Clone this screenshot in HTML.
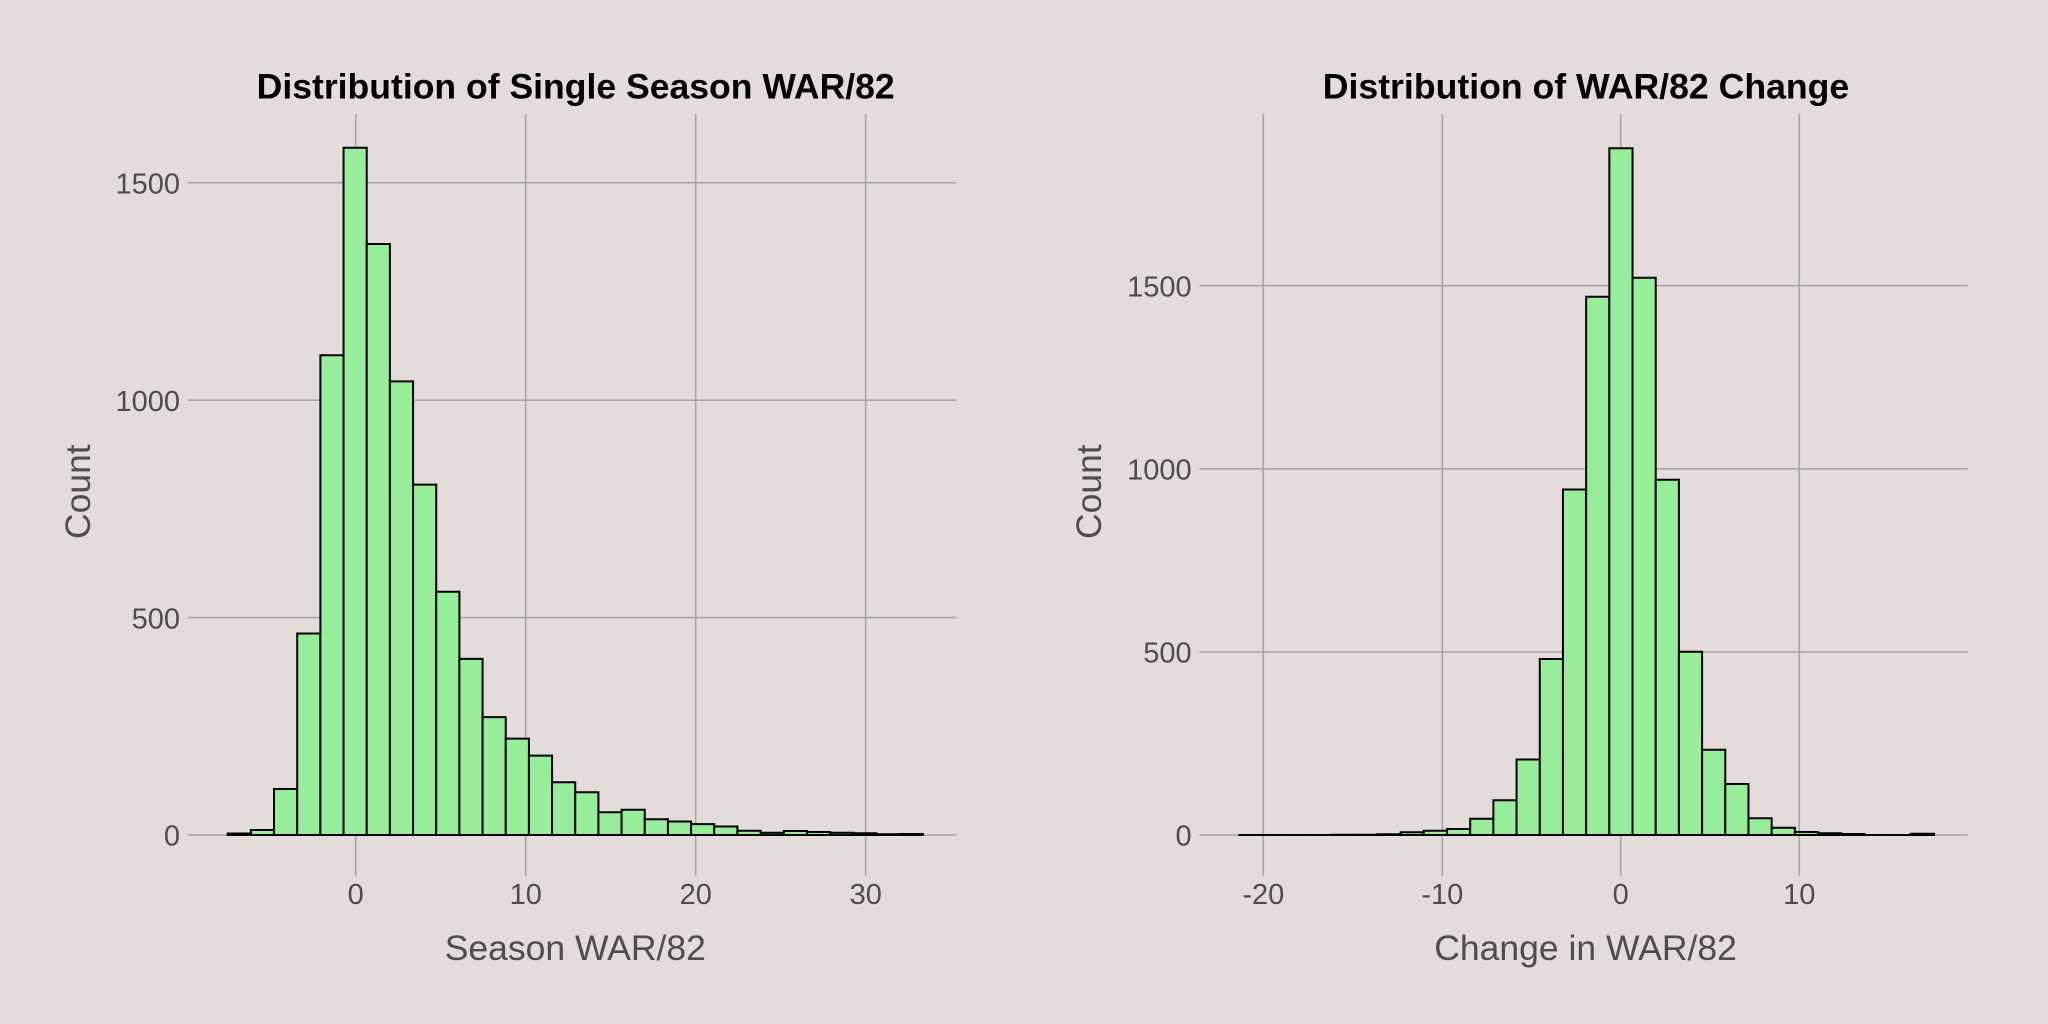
<!DOCTYPE html>
<html>
<head>
<meta charset="utf-8">
<style>
  html, body { margin: 0; padding: 0; background: #E3DCD8; }
  svg { display: block; }
  .grid { stroke: #A6A6A6; stroke-width: 1.6; fill: none; }
  .bar { fill: #96EE9B; stroke: #000; stroke-width: 2; stroke-linejoin: miter; }
  .tick { font-family: "Liberation Sans", Arial, sans-serif; font-size: 29px; fill: #4D4D4D; }
  .atitle { font-family: "Liberation Sans", Arial, sans-serif; font-size: 35.5px; fill: #4D4D4D; }
  .title { font-family: "Liberation Sans", Arial, sans-serif; font-size: 35.5px; font-weight: bold; fill: #000; }
</style>
</head>
<body>
<svg width="2048" height="1024" viewBox="0 0 2048 1024" xmlns="http://www.w3.org/2000/svg">
  <rect x="0" y="0" width="2048" height="1024" fill="#E3DCD8"/>

  <!-- ================= LEFT PANEL ================= -->
  <!-- horizontal gridlines -->
  <line class="grid" x1="187.7" x2="956.7" y1="835" y2="835"/>
  <line class="grid" x1="187.7" x2="956.7" y1="617.6" y2="617.6"/>
  <line class="grid" x1="187.7" x2="956.7" y1="400.2" y2="400.2"/>
  <line class="grid" x1="187.7" x2="956.7" y1="182.7" y2="182.7"/>
  <!-- vertical gridlines -->
  <line class="grid" x1="355.7" x2="355.7" y1="114" y2="876"/>
  <line class="grid" x1="525.7" x2="525.7" y1="114" y2="876"/>
  <line class="grid" x1="695.7" x2="695.7" y1="114" y2="876"/>
  <line class="grid" x1="865.7" x2="865.7" y1="114" y2="876"/>

  <!-- bars -->
  <path class="bar" d="M227.7 835V833.5H250.87V835Z"/>
  <path class="bar" d="M250.87 835V830H274.04V835Z"/>
  <path class="bar" d="M274.04 835V789H297.21V835Z"/>
  <path class="bar" d="M297.21 835V633.5H320.38V835Z"/>
  <path class="bar" d="M320.38 835V355.3H343.55V835Z"/>
  <path class="bar" d="M343.55 835V147.7H366.72V835Z"/>
  <path class="bar" d="M366.72 835V244H389.89V835Z"/>
  <path class="bar" d="M389.89 835V381.4H413.06V835Z"/>
  <path class="bar" d="M413.06 835V484.6H436.23V835Z"/>
  <path class="bar" d="M436.23 835V591.7H459.4V835Z"/>
  <path class="bar" d="M459.4 835V658.9H482.57V835Z"/>
  <path class="bar" d="M482.57 835V717.1H505.74V835Z"/>
  <path class="bar" d="M505.74 835V738.6H528.91V835Z"/>
  <path class="bar" d="M528.91 835V755.6H552.08V835Z"/>
  <path class="bar" d="M552.08 835V782.3H575.25V835Z"/>
  <path class="bar" d="M575.25 835V792.3H598.42V835Z"/>
  <path class="bar" d="M598.42 835V812.3H621.59V835Z"/>
  <path class="bar" d="M621.59 835V809.7H644.76V835Z"/>
  <path class="bar" d="M644.76 835V819.2H667.93V835Z"/>
  <path class="bar" d="M667.93 835V821.5H691.1V835Z"/>
  <path class="bar" d="M691.1 835V824.1H714.27V835Z"/>
  <path class="bar" d="M714.27 835V826.5H737.44V835Z"/>
  <path class="bar" d="M737.44 835V830.7H760.61V835Z"/>
  <path class="bar" d="M760.61 835V832.7H783.78V835Z"/>
  <path class="bar" d="M783.78 835V831H806.95V835Z"/>
  <path class="bar" d="M806.95 835V832H830.12V835Z"/>
  <path class="bar" d="M830.12 835V832.7H853.29V835Z"/>
  <path class="bar" d="M853.29 835V833.3H876.46V835Z"/>
  <path class="bar" d="M876.46 835V834.3H899.63V835Z"/>
  <path class="bar" d="M899.63 835V834H922.8V835Z"/>

  <!-- y tick labels -->
  <text class="tick" x="180" y="845.7" text-anchor="end">0</text>
  <text class="tick" x="180" y="628.3" text-anchor="end">500</text>
  <text class="tick" x="180" y="410.9" text-anchor="end">1000</text>
  <text class="tick" x="180" y="193.4" text-anchor="end">1500</text>
  <!-- x tick labels -->
  <text class="tick" x="355.7" y="904" text-anchor="middle">0</text>
  <text class="tick" x="525.7" y="904" text-anchor="middle">10</text>
  <text class="tick" x="695.7" y="904" text-anchor="middle">20</text>
  <text class="tick" x="865.7" y="904" text-anchor="middle">30</text>

  <!-- axis titles -->
  <text class="atitle" x="575.3" y="960" text-anchor="middle">Season WAR/82</text>
  <text class="atitle" transform="translate(90,491.7) rotate(-90)" text-anchor="middle">Count</text>
  <!-- plot title -->
  <text class="title" x="575.7" y="98.3" text-anchor="middle" textLength="638" lengthAdjust="spacingAndGlyphs">Distribution of Single Season WAR/82</text>

  <!-- ================= RIGHT PANEL ================= -->
  <line class="grid" x1="1199.3" x2="1967.7" y1="835" y2="835"/>
  <line class="grid" x1="1199.3" x2="1967.7" y1="652" y2="652"/>
  <line class="grid" x1="1199.3" x2="1967.7" y1="468.8" y2="468.8"/>
  <line class="grid" x1="1199.3" x2="1967.7" y1="285.7" y2="285.7"/>
  <line class="grid" x1="1263.3" x2="1263.3" y1="114" y2="876"/>
  <line class="grid" x1="1442.3" x2="1442.3" y1="114" y2="876"/>
  <line class="grid" x1="1620.7" x2="1620.7" y1="114" y2="876"/>
  <line class="grid" x1="1799.3" x2="1799.3" y1="114" y2="876"/>

  <path class="bar" d="M1238.3 835V835H1261.49V835Z"/>
  <path class="bar" d="M1261.49 835V835H1284.68V835Z"/>
  <path class="bar" d="M1284.68 835V835H1307.87V835Z"/>
  <path class="bar" d="M1307.87 835V835H1331.06V835Z"/>
  <path class="bar" d="M1331.06 835V834.7H1354.25V835Z"/>
  <path class="bar" d="M1354.25 835V834.7H1377.44V835Z"/>
  <path class="bar" d="M1377.44 835V834.2H1400.63V835Z"/>
  <path class="bar" d="M1400.63 835V832.3H1423.82V835Z"/>
  <path class="bar" d="M1423.82 835V830.7H1447.01V835Z"/>
  <path class="bar" d="M1447.01 835V829H1470.2V835Z"/>
  <path class="bar" d="M1470.2 835V818.7H1493.39V835Z"/>
  <path class="bar" d="M1493.39 835V800.3H1516.58V835Z"/>
  <path class="bar" d="M1516.58 835V759.5H1539.77V835Z"/>
  <path class="bar" d="M1539.77 835V659H1562.96V835Z"/>
  <path class="bar" d="M1562.96 835V489.5H1586.15V835Z"/>
  <path class="bar" d="M1586.15 835V296.7H1609.34V835Z"/>
  <path class="bar" d="M1609.34 835V148.3H1632.53V835Z"/>
  <path class="bar" d="M1632.53 835V277.7H1655.72V835Z"/>
  <path class="bar" d="M1655.72 835V479.7H1678.91V835Z"/>
  <path class="bar" d="M1678.91 835V651.8H1702.1V835Z"/>
  <path class="bar" d="M1702.1 835V749.7H1725.29V835Z"/>
  <path class="bar" d="M1725.29 835V784H1748.48V835Z"/>
  <path class="bar" d="M1748.48 835V818.3H1771.67V835Z"/>
  <path class="bar" d="M1771.67 835V827.7H1794.86V835Z"/>
  <path class="bar" d="M1794.86 835V832H1818.05V835Z"/>
  <path class="bar" d="M1818.05 835V833.3H1841.24V835Z"/>
  <path class="bar" d="M1841.24 835V834H1864.43V835Z"/>
  <path class="bar" d="M1864.43 835V835H1887.62V835Z"/>
  <path class="bar" d="M1887.62 835V835H1910.81V835Z"/>
  <path class="bar" d="M1910.81 835V833.7H1934V835Z"/>

  <text class="tick" x="1191.7" y="845.7" text-anchor="end">0</text>
  <text class="tick" x="1191.7" y="662.7" text-anchor="end">500</text>
  <text class="tick" x="1191.7" y="479.5" text-anchor="end">1000</text>
  <text class="tick" x="1191.7" y="296.4" text-anchor="end">1500</text>
  <text class="tick" x="1263.3" y="904" text-anchor="middle">-20</text>
  <text class="tick" x="1442.3" y="904" text-anchor="middle">-10</text>
  <text class="tick" x="1620.7" y="904" text-anchor="middle">0</text>
  <text class="tick" x="1799.3" y="904" text-anchor="middle">10</text>

  <text class="atitle" x="1585.6" y="960" text-anchor="middle">Change in WAR/82</text>
  <text class="atitle" transform="translate(1101,491.7) rotate(-90)" text-anchor="middle">Count</text>
  <text class="title" x="1586" y="98.3" text-anchor="middle" textLength="526.5" lengthAdjust="spacingAndGlyphs">Distribution of WAR/82 Change</text>
</svg>
</body>
</html>
